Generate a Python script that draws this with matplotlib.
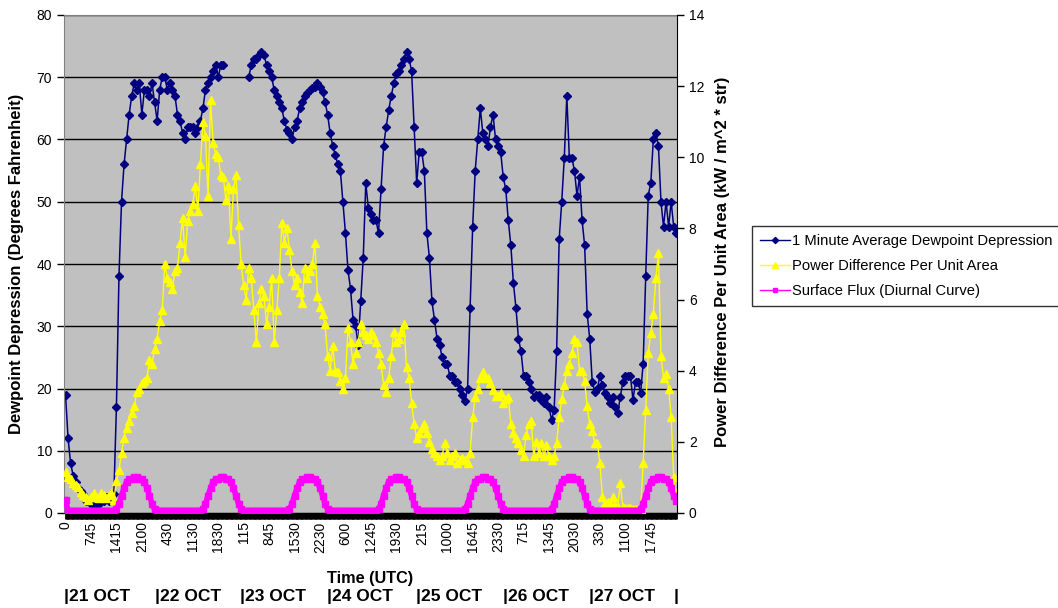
import numpy as np
import matplotlib.pyplot as plt

plt.rcParams['font.family'] = ['Liberation Sans', 'DejaVu Sans']

# tick labels along the category axis (every 10th sample)
time_labels = ["0", "745", "1415", "2100", "430", "1130", "1830", "115", "845", "1530",
               "2230", "600", "1245", "1930", "215", "1000", "1645", "2330", "715", "1345",
               "2030", "330", "1100", "1745"]
day_labels = ["|21 OCT", "|22 OCT", "|23 OCT", "|24 OCT", "|25 OCT", "|26 OCT", "|27 OCT", "|"]

nan = np.nan
# 1 minute average dewpoint depression (deg F), left axis
dewpoint = [
    19, 12, 8, 6, 5, 4, 3.5, 3, 2, 2,
    1.5, 1, 1, 1.5, 2, 2, 2.5, 2, 3, 3,
    17, 38, 50, 56, 60, 64, 67, 69, 68, 69,
    64, 68, 68, 67, 69, 66, 63, 68, 70, 70,
    68, 69, 68, 67, 64, 63, 61, 60, 62, 62,
    62, 61, 62, 63, 65, 68, 69, 70, 71, 72,
    70, 72, 72, nan, nan, nan, nan, nan, nan, nan,
    nan, nan, 70, 72, 73, 73, 73.5, 74, 73.5, 72,
    71, 70, 68, 67, 66, 65, 63, 61.5, 61, 60,
    62, 63, 65, 66, 67, 67.5, 68, 68.3, 68.5, 69,
    68.5, 67.6, 66, 64, 61, 59, 57.5, 56, 55, 50,
    45, 39, 36, 31, 30, 27, 34, 41, 53, 49,
    48, 47, 47, 45, 52, 59, 62, 64.7, 67, 69,
    70.5, 71, 72, 73, 74, 73, 71, 62, 53, 58,
    58, 55, 45, 41, 34, 31, 28, 27, 25, 24,
    24, 22, 22, 21, 21, 20, 19, 18, 20, 33,
    46, 55, 60, 65, 61, 60, 59, 62, 64, 60,
    59, 58, 54, 52, 47, 43, 37, 33, 28, 26,
    22, 22, 21, 20, 18.6, 19, 19, 18.2, 17.6, 18.6,
    17, 15, 16.5, 26, 44, 50, 57, 67, 57, 57,
    55, 51, 54, 47, 43, 32, 28, 21, 19.5, 20,
    22, 20.5, 19.3, 18.6, 17.6, 18.6, 17, 16, 18.6, 21,
    22, 22, 22, 18.2, 21, 21, 19.3, 24, 38, 51,
    53, 60, 61, 59, 50, 46, 50, 46, 50, 46,
    45]

# power difference per unit area (kW / m^2 * str), right axis
power = [
    1.15, 1.0, 0.95, 0.84, 0.8, 0.73, 0.6, 0.5, 0.45, 0.37,
    0.45, 0.56, 0.45, 0.42, 0.56, 0.5, 0.42, 0.5, 0.56, 0.37,
    0.9, 1.2, 1.7, 2.1, 2.4, 2.6, 2.8, 3.0, 3.4, 3.5,
    3.65, 3.7, 3.8, 4.3, 4.2, 4.6, 4.9, 5.4, 5.7, 7.0,
    6.6, 6.5, 6.3, 6.8, 6.9, 7.6, 8.3, 7.2, 8.2, 8.5,
    8.7, 9.2, 8.5, 9.8, 11.0, 10.6, 8.9, 11.6, 10.4, 10.1,
    10.0, 9.5, 9.45, 8.8, 9.2, 7.7, 9.1, 9.5, 8.1, 7.0,
    6.4, 6.0, 6.9, 6.6, 5.7, 4.8, 5.9, 6.3, 6.1, 5.3,
    5.8, 6.6, 4.8, 5.7, 6.6, 8.15, 7.6, 8.0, 7.4, 6.8,
    6.4, 6.6, 6.2, 5.9, 6.9, 6.6, 6.8, 7.0, 7.6, 6.1,
    5.8, 5.6, 5.3, 4.4, 4.0, 4.7, 4.0, 3.95, 3.7, 3.5,
    3.8, 5.2, 4.8, 4.2, 4.5, 4.8, 5.3, 5.1, 5.0, 4.9,
    5.1, 5.0, 4.8, 4.5, 4.2, 3.6, 3.4, 3.8, 4.4, 5.1,
    4.8, 4.9, 5.1, 5.3, 4.1, 3.8, 3.1, 2.5, 2.1, 2.25,
    2.4, 2.5, 2.25, 2.0, 1.8, 1.7, 1.6, 1.5, 1.6, 1.97,
    1.7, 1.5, 1.6, 1.7, 1.4, 1.5, 1.55, 1.5, 1.4, 1.7,
    2.7, 3.26, 3.5, 3.8, 3.95, 3.8, 3.8, 3.65, 3.45, 3.3,
    3.3, 3.37, 3.1, 3.2, 3.26, 2.5, 2.25, 2.1, 1.97, 1.77,
    1.6, 2.2, 2.5, 2.6, 1.6, 2.0, 1.7, 1.97, 1.6, 1.9,
    1.6, 1.5, 1.6, 1.97, 2.7, 3.2, 3.6, 4.0, 4.2, 4.5,
    4.9, 4.8, 4.0, 4.0, 3.7, 3.0, 2.5, 2.3, 1.97, 1.97,
    1.4, 0.45, 0.28, 0.3, 0.28, 0.45, 0.2, 0.17, 0.84, 0.17,
    0.14, 0.14, 0.14, 0.12, 0.1, 0.08, 0.1, 1.4, 2.9, 4.5,
    5.06, 5.6, 6.6, 7.3, 4.4, 3.8, 3.9, 3.5, 2.7, 1.0,
    0.56]

# surface flux (diurnal curve), right axis
flux = [
    0.37, 0.07, 0.07, 0.07, 0.07, 0.07, 0.07, 0.07, 0.07, 0.07,
    0.07, 0.07, 0.07, 0.07, 0.07, 0.07, 0.07, 0.07, 0.07, 0.07,
    0.1, 0.26, 0.49, 0.7, 0.88, 0.96, 0.96, 1.0, 1.0, 0.96,
    0.96, 0.88, 0.7, 0.49, 0.26, 0.1, 0.07, 0.07, 0.07, 0.07,
    0.07, 0.07, 0.07, 0.07, 0.07, 0.07, 0.07, 0.07, 0.07, 0.07,
    0.07, 0.07, 0.07, 0.07, 0.1, 0.26, 0.49, 0.7, 0.88, 0.96,
    0.96, 1.0, 1.0, 0.96, 0.96, 0.88, 0.7, 0.49, 0.26, 0.1,
    0.07, 0.07, 0.07, 0.07, 0.07, 0.07, 0.07, 0.07, 0.07, 0.07,
    0.07, 0.07, 0.07, 0.07, 0.07, 0.07, 0.07, 0.07, 0.1, 0.26,
    0.49, 0.7, 0.88, 0.96, 0.96, 1.0, 1.0, 0.96, 0.96, 0.88,
    0.7, 0.49, 0.26, 0.1, 0.07, 0.07, 0.07, 0.07, 0.07, 0.07,
    0.07, 0.07, 0.07, 0.07, 0.07, 0.07, 0.07, 0.07, 0.07, 0.07,
    0.07, 0.07, 0.07, 0.1, 0.26, 0.49, 0.7, 0.88, 0.96, 0.96,
    1.0, 1.0, 0.96, 0.96, 0.88, 0.7, 0.49, 0.26, 0.1, 0.07,
    0.07, 0.07, 0.07, 0.07, 0.07, 0.07, 0.07, 0.07, 0.07, 0.07,
    0.07, 0.07, 0.07, 0.07, 0.07, 0.07, 0.07, 0.1, 0.26, 0.49,
    0.7, 0.88, 0.96, 0.96, 1.0, 1.0, 0.96, 0.96, 0.88, 0.7,
    0.49, 0.26, 0.1, 0.07, 0.07, 0.07, 0.07, 0.07, 0.07, 0.07,
    0.07, 0.07, 0.07, 0.07, 0.07, 0.07, 0.07, 0.07, 0.07, 0.07,
    0.07, 0.1, 0.26, 0.49, 0.7, 0.88, 0.96, 0.96, 1.0, 1.0,
    0.96, 0.96, 0.88, 0.7, 0.49, 0.26, 0.1, 0.07, 0.07, 0.07,
    0.07, 0.07, 0.07, 0.07, 0.07, 0.07, 0.07, 0.07, 0.07, 0.07,
    0.07, 0.07, 0.07, 0.07, 0.07, 0.07, 0.1, 0.26, 0.49, 0.7,
    0.88, 0.96, 0.96, 1.0, 1.0, 0.96, 0.96, 0.88, 0.7, 0.49,
    0.35]

x = np.arange(len(dewpoint))

fig = plt.figure(figsize=(10.58, 6.08), dpi=100)
ax = fig.add_axes([64 / 1058, 95 / 608, 613 / 1058, 498 / 608])
ax.set_facecolor('#c0c0c0')

l1, = ax.plot(x, dewpoint, color='#000080', lw=1.1, marker='D', ms=4.5,
              mfc='#000080', mec='#000080', label='1 Minute Average Dewpoint Depression')
ax.set_ylim(0, 80)
ax.set_yticks(range(0, 81, 10))
ax.yaxis.grid(True, color='black', lw=1)
ax.set_axisbelow(True)

ax2 = ax.twinx()
l2, = ax2.plot(x, power, color='#ffff00', lw=1, marker='^', ms=5.5,
               mfc='#ffff00', mec='#ffff00', label='Power Difference Per Unit Area')
l3, = ax2.plot(x, flux, color='#ff00ff', lw=4, marker='s', ms=5,
               mfc='#ff00ff', mec='#ff00ff', label='Surface Flux (Diurnal Curve)')
ax2.set_ylim(0, 14)
ax2.set_yticks(range(0, 15, 2))

ax.set_xlim(-0.6, 240.3)
ax.set_xticks(np.arange(0, 240, 10))
ax.set_xticklabels(time_labels, rotation=90, fontsize=10)
ax.set_xticks(np.arange(0, 240.5, 0.5), minor=True)
ax.tick_params(axis='x', which='both', length=4, width=2, color='black', pad=2)
ax.tick_params(axis='y', length=5, width=1, labelsize=10)
ax2.tick_params(axis='y', length=5, width=1, labelsize=10)

for s in ['top', 'left']:
    ax.spines[s].set_color('#808080')
ax.spines['right'].set_visible(False)
for s in ['top', 'left', 'bottom']:
    ax2.spines[s].set_visible(False)
ax2.spines['right'].set_color('black')

fig.text(17 / 1058, 1 - 264 / 608, 'Dewpoint Depression (Degrees Fahrenheit)',
         rotation=90, ha='center', va='center', fontsize=12, fontweight='bold')
fig.text(722 / 1058, 1 - 262 / 608, 'Power Difference Per Unit Area (kW / m^2 * str)',
         rotation=90, ha='center', va='center', fontsize=12, fontweight='bold')
fig.text(370 / 1058, 1 - 578 / 608, 'Time (UTC)', ha='center', va='center',
         fontsize=11.7, fontweight='bold')

day_px = [64, 155, 240, 327, 416, 503, 589, 674]
for lab, px in zip(day_labels, day_px):
    fig.text(px / 1058, 1 - 597 / 608, lab, ha='left', va='center',
             fontsize=12.5, fontweight='bold')

leg = fig.legend([l1, l2, l3], [l1.get_label(), l2.get_label(), l3.get_label()],
                 loc='upper left', bbox_to_anchor=(752 / 1058, 1 - 226 / 608),
                 frameon=True, fancybox=False, edgecolor='black', fontsize=10.6,
                 borderaxespad=0, handlelength=2.0, handletextpad=0.15,
                 borderpad=0.55, labelspacing=0.75, markerscale=0.7)
leg.get_frame().set_linewidth(1)
for h in leg.get_lines():
    h.set_linewidth(1)

fig.savefig('out.png', dpi=100)
